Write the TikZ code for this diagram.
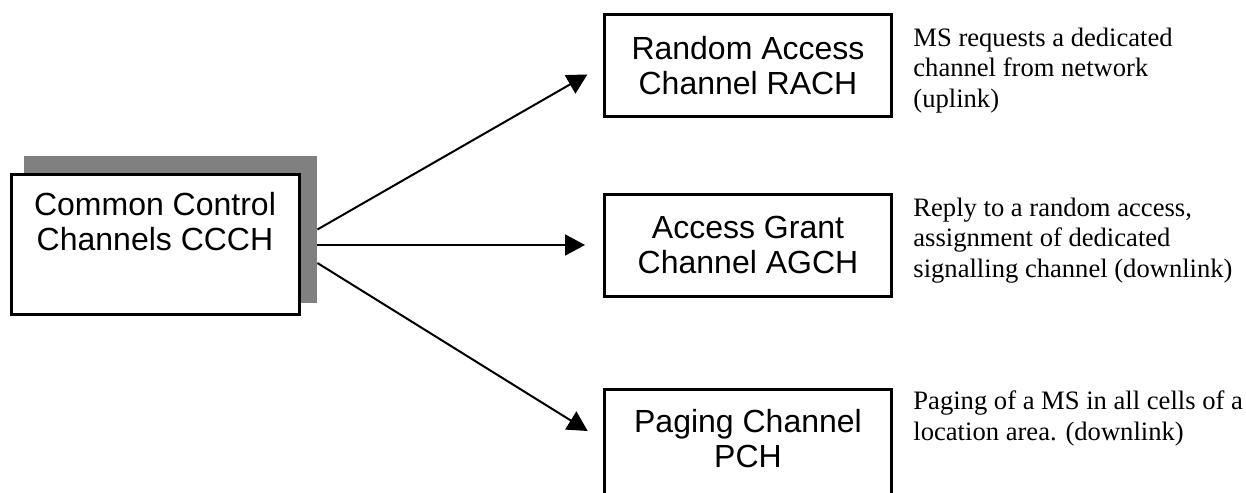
\documentclass[tikz,border=0pt]{standalone}
\usepackage{fontspec}
\setmainfont{Liberation Serif}
\setsansfont{Liberation Sans}
\usetikzlibrary{arrows.meta, positioning}

\definecolor{shadowgray}{RGB}{128,128,128}

\tikzset{
    chanbox/.style={draw, line width=1.5pt, fill=white, inner sep=0pt, align=center,
        minimum width=143.5pt, minimum height=51pt,
        font=\sffamily\fontsize{16}{17.5}\selectfont},
    note/.style={anchor=base west, inner sep=0pt, align=left,
        font=\fontsize{13.3}{15.25}\selectfont},
    arr/.style={-{Triangle[length=10pt,width=10.5pt]}, line width=1pt, shorten >=9pt}
}

\begin{document}
\begin{tikzpicture}[x=0.5pt, y=-0.5pt]
    \useasboundingbox (0,0) rectangle (1246,492);

    % common control channels with its grey shadow
    \node[fill=shadowgray, minimum width=146.5pt, minimum height=73.5pt, inner sep=0pt] (shade) at (170.5,229.5) {};
    \node[chanbox, minimum width=144pt, minimum height=70pt] (ccch) at (155,244.5) {Common Control\\Channels CCCH\\[6pt]~};

    % the three channels (the lower one runs past the bottom edge)
    \node[chanbox] (rach) at (748,65.5) {Random Access\\Channel RACH};
    \node[chanbox] (agch) at (748,245) {Access Grant\\Channel AGCH};
    \node[chanbox, minimum height=55pt] (pch) at (748,444) {Paging Channel\\PCH\\[-12pt]~};

    % notes (placed at the baseline of their last line)
    \node[note] (rachnote) at (913,107) {MS requests a dedicated\\channel from network\\(uplink)};
    \node[note] (agchnote) at (913,277) {Reply to a random access,\\assignment of dedicated\\signalling channel (downlink)};
    \node[note] (pchnote) at (913,440) {Paging of a MS in all cells of a\\location area. (downlink)};

    % arrows
    \draw[arr] (shade.east) -- (rach.west);
    \draw[arr] (shade.east |- agch.west) -- (agch.west);
    \draw[arr] ([yshift=-16.75pt]shade.east) -- ([yshift=1.75pt]pch.west);
\end{tikzpicture}
\end{document}
